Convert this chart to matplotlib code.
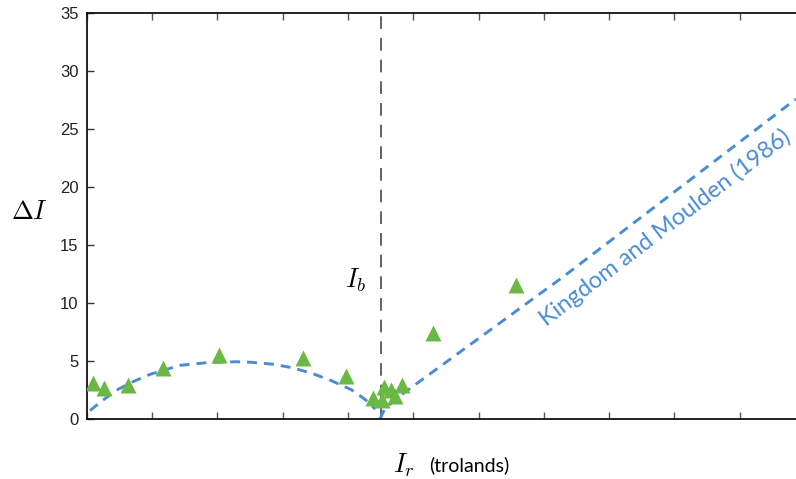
import matplotlib
matplotlib.use('Agg')
import matplotlib.pyplot as plt
import numpy as np

# measured points (I_r in tick units, delta I)
ir_data = [0.10, 0.265, 0.64, 1.17, 2.03, 3.32, 3.97, 4.39, 4.52, 4.56, 4.66, 4.72, 4.83, 5.31, 6.58]
di_data = [3.1, 2.65, 2.9, 4.36, 5.55, 5.3, 3.69, 1.83, 1.61, 2.79, 2.53, 2.0, 2.93, 7.45, 11.6]

# Kingdom and Moulden curve
km_left_x = [0.05, 0.23, 0.46, 0.71, 0.97, 1.43, 1.84, 2.30, 2.53, 2.86, 3.14, 3.45, 3.75, 4.06, 4.26, 4.42]
km_left_y = [0.72, 1.55, 2.5, 3.22, 3.85, 4.63, 4.86, 4.94, 4.89, 4.72, 4.43, 3.94, 3.30, 2.5, 1.70, 0.85]
km_right_x = [4.49, 4.57, 4.85, 7.30, 10.86]
km_right_y = [0.0, 0.92, 2.22, 12.28, 27.6]

ib_x = 4.50
yticks = [0, 5, 10, 15, 20, 25, 30, 35]
xticks = list(range(0, 11))

green = '#6ab945'
blue = '#4a8cd4'

plt.rcParams['mathtext.fontset'] = 'cm'
plt.rcParams['font.family'] = 'Liberation Sans'

fig = plt.figure(figsize=(7.96, 4.79), dpi=100)
ax = fig.add_axes([86.7 / 796, 1 - 419 / 479, 1 - 86.7 / 796, (419 - 13.3) / 479])

ax.plot(km_left_x, km_left_y, color=blue, lw=2.1, dashes=(3.4, 2.4), zorder=2)
ax.plot(km_right_x, km_right_y, color=blue, lw=2.1, dashes=(3.4, 2.4), zorder=2, clip_on=False)
ax.axvline(ib_x, color='#555555', lw=1.3, dashes=(7, 5), zorder=1)
ax.plot(ir_data, di_data, '^', color=green, ms=11, mec='none', zorder=3)

ax.set_xlim(0, 10.862)
ax.set_ylim(0, 35)
ax.set_xticks(xticks)
ax.set_xticklabels([])
ax.set_yticks(yticks)
ax.tick_params(axis='x', direction='in', length=5, width=1, color='#555555', top=True)
ax.tick_params(axis='y', direction='in', length=5, width=1, color='#333333', labelsize=12, pad=6, labelcolor='#222222')
ax.spines['right'].set_visible(False)
for s in ['left', 'bottom', 'top']:
    ax.spines[s].set_linewidth(1.3)
    ax.spines[s].set_color('#111111')

ax.text(4.12, 12.0, '$I_b$', fontsize=19, ha='center', va='center')
ax.text(8.86, 16.5, 'Kingdom and Moulden (1986)', color=blue, fontsize=17, family='Lato',
        rotation=37.3, rotation_mode='anchor', ha='center', va='center')

fig.text(30 / 796, 1 - 212 / 479, r'$\Delta I$', fontsize=19, ha='center', va='center')
fig.text(393 / 796, 1 - 465 / 479, '$I_r$', fontsize=19, ha='left', va='center')
fig.text(429 / 796, 1 - 465 / 479, '(trolands)', fontsize=14, family='Lato', ha='left', va='center')

fig.savefig('out.png', dpi=100)
